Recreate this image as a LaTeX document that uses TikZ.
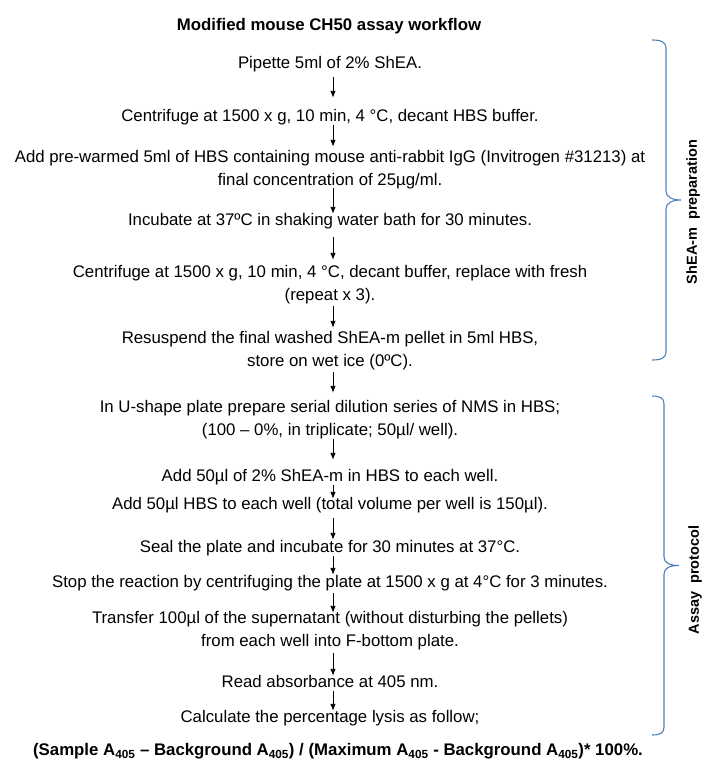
\documentclass[tikz,border=0pt]{standalone}
\usepackage{fontspec}
\setmainfont{Liberation Sans}
\usetikzlibrary{arrows.meta}
\newcommand\stA{\rule[-0.22em]{0pt}{0.95em}}
\definecolor{bracecol}{RGB}{79,129,189}
\begin{document}
\begin{tikzpicture}[x=1pt,y=-1pt,
 stepbox/.style={inner sep=0pt, align=center, font=\fontsize{16.8}{22.5}\selectfont},
 titlebox/.style={inner sep=0pt, align=center, font=\fontsize{16.8}{22.5}\selectfont\bfseries},
 sidelabel/.style={inner sep=0pt, rotate=90, font=\fontsize{14.5}{17}\selectfont\bfseries},
 arr/.style={-{Latex[length=7pt,width=5.5pt]}, line width=0.9pt},
 bracket/.style={draw=bracecol, line width=1.1pt}]
\useasboundingbox (0,0) rectangle (709,765);
\fill[white] (0,0) rectangle (709,765);
\coordinate (ax) at (333,0);

\node[titlebox] (title) at (329,26.7) {\stA Modified mouse CH50 assay workflow\stA};
\node[stepbox] (p1) at (330,64.7) {\stA Pipette 5ml of 2\% ShEA.\stA};
\node[stepbox] (p2) at (330,117.7) {\stA Centrifuge at 1500 x g, 10 min, 4 °C, decant HBS buffer.\stA};
\node[stepbox] (p3) at (330,169.95) {\stA Add pre-warmed 5ml of HBS containing mouse anti-rabbit IgG (Invitrogen \#31213) at\\ final concentration of 25µg/ml.\stA};
\node[stepbox] (p4) at (330,221.7) {\stA Incubate at 37ºC in shaking water bath for 30 minutes.\stA};
\node[stepbox] (p5) at (330,284.95) {\stA Centrifuge at 1500 x g, 10 min, 4 °C, decant buffer, replace with fresh\\ (repeat x 3).\stA};
\node[stepbox] (p6) at (330,350.95) {\stA Resuspend the final washed ShEA-m pellet in 5ml HBS,\\ store on wet ice (0ºC).\stA};
\node[stepbox] (p7) at (330,419.95) {\stA In U-shape plate prepare serial dilution series of NMS in HBS;\\ (100 – 0\%, in triplicate; 50µl/ well).\stA};
\node[stepbox] (p8) at (330,477.7) {\stA Add 50µl of 2\% ShEA-m in HBS to each well.\stA};
\node[stepbox] (p9) at (330,505.7) {\stA Add 50µl HBS to each well (total volume per well is 150µl).\stA};
\node[stepbox] (p10) at (330,548.7) {\stA Seal the plate and incubate for 30 minutes at 37°C.\stA};
\node[stepbox] (p11) at (330,583.7) {\stA Stop the reaction by centrifuging the plate at 1500 x g at 4°C for 3 minutes.\stA};
\node[stepbox] (p12) at (330,630.95) {\stA Transfer 100µl of the supernatant (without disturbing the pellets)\\ from each well into F-bottom plate.\stA};
\node[stepbox] (p13) at (330,683.7) {\stA Read absorbance at 405 nm.\stA};
\node[stepbox] (p14) at (330,718.7) {\stA Calculate the percentage lysis as follow;\stA};
\node[titlebox] (formula) at (338,751.7) {\stA (Sample A\textsubscript{405} – Background A\textsubscript{405}) / (Maximum A\textsubscript{405} - Background A\textsubscript{405})* 100\%.\stA};

\draw[arr, shorten <=4.3pt, shorten >=11.7pt] (p1.south -| ax) -- (p2.north -| ax);
\draw[arr, shorten <=-0.7pt, shorten >=3.7pt] (p2.south -| ax) -- (p3.north -| ax);
\draw[arr, shorten <=-1.2pt, shorten >=-0.3pt] (p3.south -| ax) -- (p4.north -| ax);
\draw[arr, shorten <=7.3pt, shorten >=5.7pt] (p4.south -| ax) -- (p5.north -| ax);
\draw[arr, shorten <=1.8pt, shorten >=3.7pt] (p5.south -| ax) -- (p6.north -| ax);
\draw[arr, shorten <=1.8pt, shorten >=7.7pt] (p6.south -| ax) -- (p7.north -| ax);
\draw[arr, shorten <=-0.2pt, shorten >=9.7pt] (p7.south -| ax) -- (p8.north -| ax);
\draw[arr, shorten <=-0.7pt, shorten >=-1.3pt] (p8.south -| ax) -- (p9.north -| ax);
\draw[arr, shorten <=4.3pt, shorten >=0.7pt] (p9.south -| ax) -- (p10.north -| ax);
\draw[arr, shorten <=-0.7pt, shorten >=0.7pt] (p10.south -| ax) -- (p11.north -| ax);
\draw[arr, shorten <=1.3pt, shorten >=-1.3pt] (p11.south -| ax) -- (p12.north -| ax);
\draw[arr, shorten <=2.8pt, shorten >=-0.3pt] (p12.south -| ax) -- (p13.north -| ax);
\draw[arr, shorten <=-0.7pt, shorten >=-0.3pt] (p13.south -| ax) -- (p14.north -| ax);

% braces
\draw[bracket] (652,40) .. controls (661,40) and (666,42) .. (666,48) -- (666,191)
  .. controls (666,197) and (672,200) .. (681,200)
  .. controls (672,200) and (666,203) .. (666,209) -- (666,352)
  .. controls (666,358) and (661,360) .. (652,360);
\draw[bracket] (652,396) .. controls (660,396) and (664,398) .. (664,404) -- (664,557)
  .. controls (664,563) and (670,565.5) .. (679,565.5)
  .. controls (670,565.5) and (664,568) .. (664,574) -- (664,727)
  .. controls (664,733) and (660,735) .. (652,735);

\node[sidelabel] (lab1) at (693,212) {ShEA-m\ \ preparation};
\node[sidelabel] (lab2) at (695,580) {Assay\ \ protocol};
\end{tikzpicture}
\end{document}
